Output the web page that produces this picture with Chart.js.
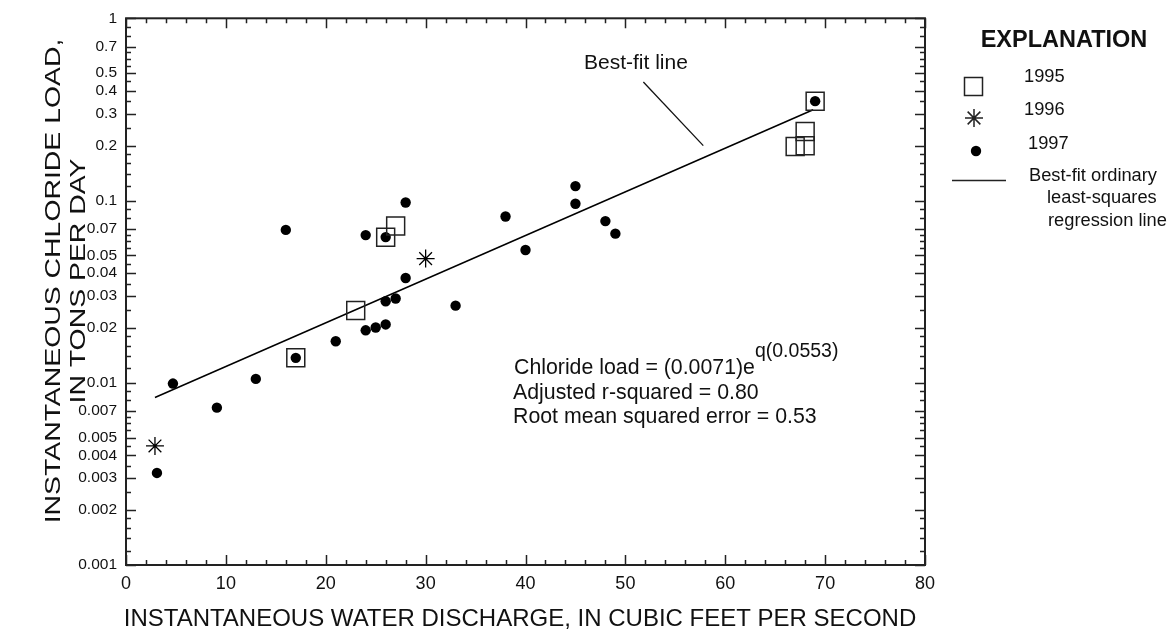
<!DOCTYPE html>
<html><head><meta charset="utf-8">
<script src="https://cdn.jsdelivr.net/npm/chart.js@4/dist/chart.umd.min.js"></script>
<style>html,body{margin:0;padding:0;background:#fff}canvas{display:block}</style>
</head><body>
<canvas id="c" width="1170" height="635"></canvas>
<script>
// ---- data ----
const q1995 = [17, 23, 26, 27, 67, 68, 68, 69];
const load1995 = [0.0137, 0.0249, 0.0628, 0.0724, 0.198, 0.2, 0.239, 0.351];

const q1996 = [2.9, 30];
const load1996 = [0.0045, 0.048];

const q1997 = [3.1, 4.7, 9.1, 13, 16, 17, 21, 24, 24, 25, 26, 26, 26, 27, 28, 28, 33, 38, 40, 45, 45, 48, 49, 69];
const load1997 = [0.0032, 0.0099, 0.0073, 0.0105, 0.069, 0.0137, 0.0169, 0.0194, 0.0646, 0.0201, 0.0209, 0.028, 0.063, 0.029, 0.0376, 0.0975, 0.0265, 0.0817, 0.0535, 0.096, 0.120, 0.0771, 0.0658, 0.351];

const fitQ = [2.9, 68.8];
const fitLoad = [0.0083, 0.315];

const xTickValues = [0, 10, 20, 30, 40, 50, 60, 70, 80];
const yTickValues = [0.001, 0.002, 0.003, 0.004, 0.005, 0.007, 0.01, 0.02, 0.03, 0.04, 0.05, 0.07, 0.1, 0.2, 0.3, 0.4, 0.5, 0.7, 1];
const yTickLabels = ['0.001', '0.002', '0.003', '0.004', '0.005', '0.007', '0.01', '0.02', '0.03', '0.04', '0.05', '0.07', '0.1', '0.2', '0.3', '0.4', '0.5', '0.7', '1'];

const yTitleLines = ['INSTANTANEOUS CHLORIDE LOAD,', 'IN TONS PER DAY'];
const xTitle = 'INSTANTANEOUS WATER DISCHARGE, IN CUBIC FEET PER SECOND';

const pts = (xs, ys) => xs.map((v, i) => ({x: v, y: ys[i]}));

const FONT = '"Liberation Sans", Arial, Helvetica, sans-serif';
const INK = '#111';

const framePlugin = {
  id: 'frame',
  afterDatasetsDraw(chart) {
    const {ctx, chartArea: a, scales: {x, y}} = chart;
    ctx.save();
    ctx.strokeStyle = '#222';
    ctx.lineWidth = 1.5;
    ctx.beginPath();
    for (let v = 0; v <= 80; v += 2) {
      const px = Math.round(x.getPixelForValue(v)) + 0.5;
      const L = v % 10 === 0 ? 10 : 5;
      ctx.moveTo(px, a.bottom); ctx.lineTo(px, a.bottom - L);
      ctx.moveTo(px, a.top); ctx.lineTo(px, a.top + L);
    }
    const majors = [1, 2, 3, 4, 5, 7];
    const minors = [1.2, 1.4, 1.6, 1.8, 2.5, 3.5, 4.5, 5.5, 6, 6.5, 8, 9];
    const drawY = (v, L) => {
      const py = Math.round(y.getPixelForValue(v)) + 0.5;
      ctx.moveTo(a.left, py); ctx.lineTo(a.left + L, py);
      ctx.moveTo(a.right, py); ctx.lineTo(a.right - L, py);
    };
    [0.001, 0.01, 0.1].forEach(d => {
      majors.forEach(m => drawY(m * d, 10));
      minors.forEach(m => drawY(m * d, 5));
    });
    drawY(1, 10);
    ctx.stroke();
    ctx.lineWidth = 2;
    ctx.strokeRect(a.left, a.top, a.right - a.left, a.bottom - a.top);

    // axis titles
    ctx.fillStyle = INK;
    ctx.textBaseline = 'middle';
    ctx.textAlign = 'center';
    ctx.font = '24px ' + FONT;
    ctx.fillText(xTitle, 520, 619);
    ctx.font = '22px ' + FONT;
    [[54, yTitleLines[0]], [79, yTitleLines[1]]].forEach(([tx, t]) => {
      ctx.save();
      ctx.translate(tx, 281);
      ctx.rotate(-Math.PI / 2);
      ctx.scale(1.29, 1);
      ctx.fillText(t, 0, 0);
      ctx.restore();
    });

    // annotations
    ctx.font = '21px ' + FONT;
    ctx.fillText('Best-fit line', x.getPixelForValue(51.06), y.getPixelForValue(0.567));
    ctx.lineWidth = 1.3;
    ctx.strokeStyle = INK;
    ctx.beginPath();
    ctx.moveTo(x.getPixelForValue(51.8), y.getPixelForValue(0.447));
    ctx.lineTo(x.getPixelForValue(57.8), y.getPixelForValue(0.2));
    ctx.stroke();

    ctx.textAlign = 'left';
    const ex = 514;
    ctx.font = '21.3px ' + FONT;
    const t1 = 'Chloride load = (0.0071)e';
    ctx.fillText(t1, ex, 368);
    const w1 = ctx.measureText(t1).width;
    ctx.font = '19.5px ' + FONT;
    ctx.fillText('q(0.0553)', ex + w1, 352);
    ctx.font = '21.3px ' + FONT;
    ctx.fillText('Adjusted r-squared = 0.80', ex - 1, 393);
    ctx.fillText('Root mean squared error = 0.53', ex - 1, 417);

    // explanation
    ctx.font = 'bold 23.5px ' + FONT;
    ctx.textAlign = 'center';
    ctx.fillText('EXPLANATION', 1064, 41);
    ctx.textAlign = 'left';
    ctx.font = '18.3px ' + FONT;
    ctx.fillText('1995', 1024, 77);
    ctx.fillText('1996', 1024, 110);
    ctx.fillText('1997', 1028, 144);
    ctx.fillText('Best-fit ordinary', 1029, 176);
    ctx.fillText('least-squares', 1047, 198);
    ctx.fillText('regression line', 1048, 221);
    // symbols
    ctx.strokeStyle = '#222';
    ctx.lineWidth = 1.5;
    ctx.strokeRect(964.5, 77.5, 18, 18);
    ctx.beginPath();
    const sx = 974, sy = 118, r = 9;
    ctx.moveTo(sx - r, sy); ctx.lineTo(sx + r, sy);
    ctx.moveTo(sx, sy - r); ctx.lineTo(sx, sy + r);
    const d = r * Math.SQRT1_2;
    ctx.moveTo(sx - d, sy - d); ctx.lineTo(sx + d, sy + d);
    ctx.moveTo(sx - d, sy + d); ctx.lineTo(sx + d, sy - d);
    ctx.stroke();
    ctx.fillStyle = '#000';
    ctx.beginPath(); ctx.arc(976, 151, 5.2, 0, Math.PI * 2); ctx.fill();
    ctx.beginPath(); ctx.moveTo(952, 180.5); ctx.lineTo(1006, 180.5); ctx.stroke();
    ctx.restore();
  }
};

new Chart(document.getElementById('c'), {
  type: 'scatter',
  data: {
    datasets: [
      {label: 'Best-fit ordinary least-squares regression line', data: pts(fitQ, fitLoad), showLine: true, pointRadius: 0, borderColor: '#000', borderWidth: 1.5, order: 4},
      {label: '1997', data: pts(q1997, load1997), pointStyle: 'circle', pointRadius: 5.2, backgroundColor: '#000', borderColor: '#000', borderWidth: 0, order: 3},
      {label: '1995', data: pts(q1995, load1995), pointStyle: 'rect', pointRadius: 12.7, backgroundColor: 'rgba(0,0,0,0)', borderColor: '#222', borderWidth: 1.5, order: 2},
      {label: '1996', data: pts(q1996, load1996), pointStyle: 'star', pointRadius: 9, backgroundColor: '#000', borderColor: '#000', borderWidth: 1.3, order: 1}
    ]
  },
  options: {
    responsive: false,
    devicePixelRatio: 1,
    animation: false,
    layout: {padding: {left: 0, right: 245, top: 17, bottom: 0}},
    plugins: {legend: {display: false}, tooltip: {enabled: false}},
    scales: {
      x: {
        type: 'linear', position: 'bottom', min: 0, max: 80,
        afterFit: s => { s.height = 70; },
        afterBuildTicks: s => { s.ticks = xTickValues.map(v => ({value: v})); },
        grid: {display: false, drawTicks: false}, border: {display: false},
        ticks: {autoSkip: false, maxRotation: 0, padding: 8, color: INK, font: {family: FONT, size: 18}},
        title: {display: false}
      },
      y: {
        type: 'logarithmic', position: 'left', min: 0.001, max: 1,
        afterFit: s => { s.width = 126; },
        afterBuildTicks: s => { s.ticks = yTickValues.map(v => ({value: v})); },
        grid: {display: false, drawTicks: false}, border: {display: false},
        ticks: {autoSkip: false, padding: 9, color: INK, font: {family: FONT, size: 15.5},
                callback: (v, i) => yTickLabels[i]},
        title: {display: false}
      }
    }
  },
  plugins: [framePlugin]
});
</script>
</body></html>
